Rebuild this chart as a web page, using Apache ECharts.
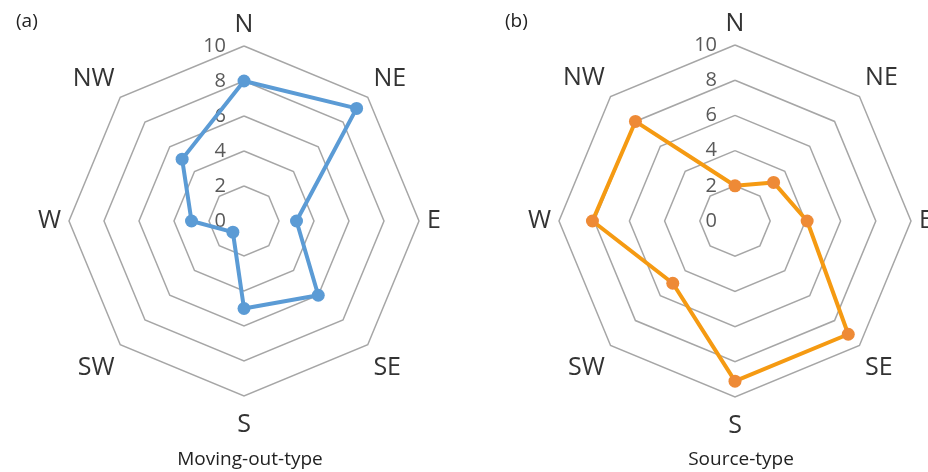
<!DOCTYPE html>
<html>
<head>
<meta charset="utf-8">
<script src="https://cdn.jsdelivr.net/npm/echarts@6/dist/echarts.min.js"></script>
<style>
html,body{margin:0;padding:0;background:#fff;}
#chart{width:928px;height:472px;}
</style>
</head>
<body>
<div id="chart"></div>
<script>
// Data (clockwise from North)
var directions = ['N', 'NE', 'E', 'SE', 'S', 'SW', 'W', 'NW'];
var movingOutValues = [8, 9.1, 3, 6, 5, 0.9, 3, 5];
var sourceValues = [2, 3.1, 4.1, 9.1, 9.1, 5, 8.1, 8];
var tickLabels = [0, 2, 4, 6, 8, 10];
var panelLabels = ['(a)', '(b)'];
var panelTitles = ['Moving-out-type', 'Source-type'];

var axisMax = tickLabels[tickLabels.length - 1];
var axisMin = tickLabels[0];
var tickStep = tickLabels[1] - tickLabels[0];

// ECharts radar runs counter-clockwise; reorder so the drawing runs clockwise
function ccw(arr) {
  return [arr[0]].concat(arr.slice(1).reverse());
}

var chart = echarts.init(document.getElementById('chart'), null, {renderer: 'canvas'});

var centers = [[244, 221], [735, 221]];
var radii = [175, 176];

var nameStyleKey = {N: 'n', NE: 'up', NW: 'up', E: 'side', W: 'side', SE: 'down', SW: 'down', S: 's'};

function radarCfg(i) {
  return {
    center: centers[i],
    radius: radii[i],
    startAngle: 90,
    shape: 'polygon',
    splitNumber: tickLabels.length - 1,
    indicator: ccw(directions).map(function (d) { return {name: d, min: axisMin, max: axisMax}; }),
    axisName: {
      color: '#333333', fontSize: 25, fontFamily: 'Open Sans',
      formatter: function (name) { return '{' + nameStyleKey[name] + '|' + name + '}'; },
      rich: {
        n: {fontSize: 25, fontFamily: 'Open Sans', color: '#333333', padding: [0, 0, 1, 0]},
        up: {fontSize: 25, fontFamily: 'Open Sans', color: '#333333', padding: [0, 0, 26, 0]},
        side: {fontSize: 25, fontFamily: 'Open Sans', color: '#333333'},
        down: {fontSize: 25, fontFamily: 'Open Sans', color: '#333333', padding: [34, 0, 0, 0]},
        s: {fontSize: 25, fontFamily: 'Open Sans', color: '#333333', padding: [8, 0, 0, 0]}
      }
    },
    nameGap: 8,
    axisLine: {show: false},
    axisTick: {show: false},
    axisLabel: {show: false},
    splitArea: {show: false},
    splitLine: {lineStyle: {color: '#a6a6a6', width: 1.5}}
  };
}

function polarCfg(i) {
  return {center: centers[i], radius: radii[i]};
}

var option = {
  backgroundColor: '#ffffff',
  animation: false,
  title: [
    {text: panelLabels[0], left: 11, top: 7, textStyle: {fontSize: 19, fontWeight: 'normal', color: '#222', fontFamily: 'Open Sans'}},
    {text: panelLabels[1], left: 500, top: 7, textStyle: {fontSize: 19, fontWeight: 'normal', color: '#222', fontFamily: 'Open Sans'}},
    {text: panelTitles[0], left: 245, top: 445, textAlign: 'center', textStyle: {fontSize: 19, fontWeight: 'normal', color: '#222', fontFamily: 'Open Sans'}},
    {text: panelTitles[1], left: 736, top: 445, textAlign: 'center', textStyle: {fontSize: 19, fontWeight: 'normal', color: '#222', fontFamily: 'Open Sans'}}
  ],
  radar: [radarCfg(0), radarCfg(1)],
  polar: [polarCfg(0), polarCfg(1)],
  angleAxis: [
    {polarIndex: 0, show: false, startAngle: 90, min: 0, max: 360},
    {polarIndex: 1, show: false, startAngle: 90, min: 0, max: 360}
  ],
  radiusAxis: [0, 1].map(function (i) {
    return {
      polarIndex: i,
      min: axisMin, max: axisMax, interval: tickStep,
      axisLine: {show: false},
      axisTick: {show: false},
      splitLine: {show: false},
      axisLabel: {color: '#595959', fontSize: 20, fontFamily: 'Open Sans', margin: 18}
    };
  }),
  series: [
    {
      type: 'radar',
      radarIndex: 0,
      symbol: 'circle',
      symbolSize: 13,
      lineStyle: {color: '#5b9bd5', width: 4},
      itemStyle: {color: '#5b9bd5'},
      data: [{value: ccw(movingOutValues), name: panelTitles[0]}]
    },
    {
      type: 'radar',
      radarIndex: 1,
      symbol: 'circle',
      symbolSize: 13,
      lineStyle: {color: '#f59a12', width: 4},
      itemStyle: {color: '#ee8a36'},
      data: [{value: ccw(sourceValues), name: panelTitles[1]}]
    }
  ]
};
chart.setOption(option);
</script>
</body>
</html>
